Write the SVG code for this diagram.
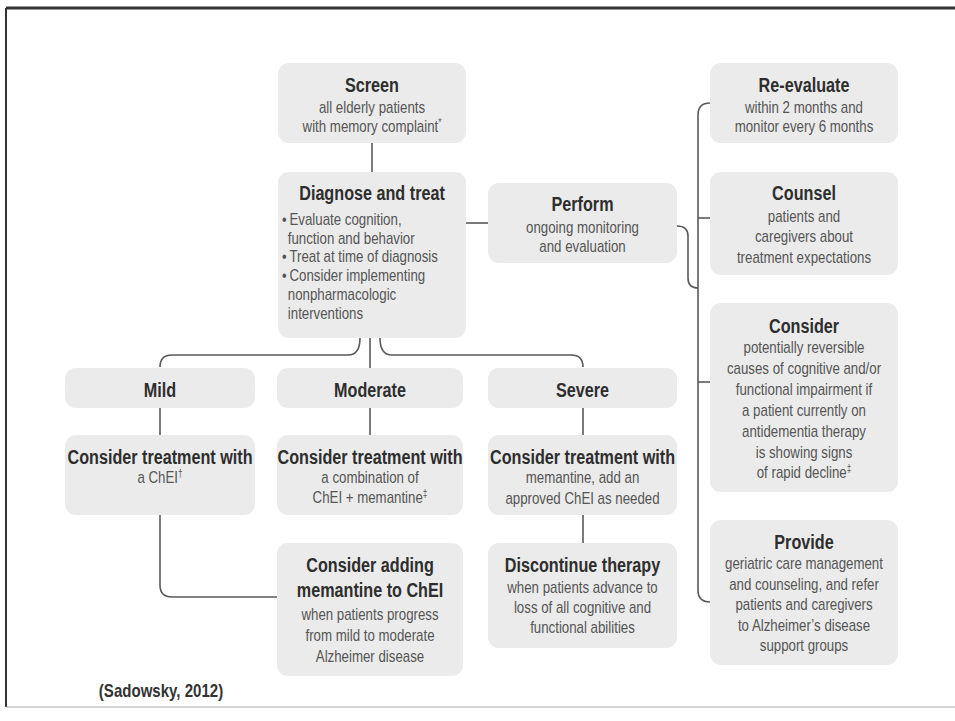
<svg xmlns="http://www.w3.org/2000/svg" width="955" height="721" viewBox="0 0 955 721">
<style>
.box{fill:#ebebeb;stroke:none}
.ln{fill:none;stroke:#5a5a5a;stroke-width:1.6}
text{font-family:"Liberation Sans",Arial,sans-serif}
.h{font-size:19.5px;font-weight:bold;fill:#2e2e2e;text-anchor:middle}
.b{font-size:16px;fill:#555;text-anchor:middle}
.bl{font-size:16px;fill:#555;text-anchor:start}
.sup{font-size:10px}
</style>
<rect width="955" height="721" fill="#fff"/>
<g id="frame">
<line x1="6" y1="8" x2="955" y2="8" stroke="#333" stroke-width="3"/>
<line x1="6" y1="8" x2="6" y2="707" stroke="#333" stroke-width="2"/>
<line x1="6" y1="707" x2="955" y2="707" stroke="#aaa" stroke-width="1"/>
</g>
<g id="connectors">
<path class="ln" d="M372,143 V172"/>
<path class="ln" d="M466,223 H488"/>
<path class="ln" d="M360,338 Q360,355 348,355 H172 Q160,355 160,367"/>
<path class="ln" d="M370,338 V368"/>
<path class="ln" d="M380,338 Q380,355 392,355 H571 Q583,355 583,367"/>
<path class="ln" d="M160,408 V435"/>
<path class="ln" d="M370,408 V435"/>
<path class="ln" d="M583,408 V435"/>
<path class="ln" d="M583,515 V543"/>
<path class="ln" d="M160,515 V585 Q160,597 172,597 H277"/>
<path class="ln" d="M677,226 Q688,226 688,236 L688,278 Q688,288 698,288"/>
<path class="ln" d="M710,103 Q698,103 698,115 L698,590 Q698,602 710,602"/>
<path class="ln" d="M698,218 H710"/>
<path class="ln" d="M698,382 H710"/>
</g>
<g id="screen">
<rect class="box" x="278" y="63" width="188" height="80" rx="11"/>
<g transform="translate(372 0) scale(0.83 1)">
<text class="h" x="0" y="92">Screen</text>
<text class="b" x="0" y="113">all elderly patients</text>
<text class="b" x="0" y="132">with memory complaint<tspan class="sup" dy="-6">*</tspan></text>
</g>
</g>
<g id="diagnose">
<rect class="box" x="278" y="172" width="188" height="166" rx="11"/>
<g transform="translate(372 0) scale(0.83 1)">
<text class="h" x="0" y="200">Diagnose and treat</text>
</g>
<g transform="translate(282 0) scale(0.83 1)">
<text class="bl" x="0" y="225">•</text>
<text class="bl" x="9" y="225">Evaluate cognition,</text>
<text class="bl" x="7" y="244">function and behavior</text>
<text class="bl" x="0" y="262">•</text>
<text class="bl" x="9" y="262">Treat at time of diagnosis</text>
<text class="bl" x="0" y="281">•</text>
<text class="bl" x="9" y="281">Consider implementing</text>
<text class="bl" x="7" y="300">nonpharmacologic</text>
<text class="bl" x="7" y="319">interventions</text>
</g>
</g>
<g id="perform">
<rect class="box" x="488" y="183" width="189" height="80" rx="11"/>
<g transform="translate(582.5 0) scale(0.83 1)">
<text class="h" x="0" y="211">Perform</text>
<text class="b" x="0" y="233">ongoing monitoring</text>
<text class="b" x="0" y="252">and evaluation</text>
</g>
</g>
<g id="reevaluate">
<rect class="box" x="710" y="63" width="188" height="80" rx="11"/>
<g transform="translate(804 0) scale(0.83 1)">
<text class="h" x="0" y="92">Re-evaluate</text>
<text class="b" x="0" y="113">within 2 months and</text>
<text class="b" x="0" y="132">monitor every 6 months</text>
</g>
</g>
<g id="counsel">
<rect class="box" x="710" y="172" width="188" height="103" rx="11"/>
<g transform="translate(804 0) scale(0.83 1)">
<text class="h" x="0" y="200">Counsel</text>
<text class="b" x="0" y="222">patients and</text>
<text class="b" x="0" y="242">caregivers about</text>
<text class="b" x="0" y="263">treatment expectations</text>
</g>
</g>
<g id="consider">
<rect class="box" x="710" y="303" width="188" height="189" rx="11"/>
<g transform="translate(804 0) scale(0.83 1)">
<text class="h" x="0" y="333">Consider</text>
<text class="b" x="0" y="353">potentially reversible</text>
<text class="b" x="0" y="374">causes of cognitive and/or</text>
<text class="b" x="0" y="395">functional impairment if</text>
<text class="b" x="0" y="416">a patient currently on</text>
<text class="b" x="0" y="437">antidementia therapy</text>
<text class="b" x="0" y="458">is showing signs</text>
<text class="b" x="0" y="478">of rapid decline<tspan class="sup" dy="-6">‡</tspan></text>
</g>
</g>
<g id="provide">
<rect class="box" x="710" y="520" width="188" height="145" rx="11"/>
<g transform="translate(804 0) scale(0.83 1)">
<text class="h" x="0" y="549">Provide</text>
<text class="b" x="0" y="569">geriatric care management</text>
<text class="b" x="0" y="590">and counseling, and refer</text>
<text class="b" x="0" y="610">patients and caregivers</text>
<text class="b" x="0" y="631">to Alzheimer’s disease</text>
<text class="b" x="0" y="651">support groups</text>
</g>
</g>
<g id="mild">
<rect class="box" x="65" y="368" width="190" height="40" rx="11"/>
<g transform="translate(160 0) scale(0.83 1)"><text class="h" x="0" y="397">Mild</text></g>
</g>
<g id="moderate">
<rect class="box" x="277" y="368" width="186" height="40" rx="11"/>
<g transform="translate(370 0) scale(0.83 1)"><text class="h" x="0" y="397">Moderate</text></g>
</g>
<g id="severe">
<rect class="box" x="488" y="368" width="189" height="40" rx="11"/>
<g transform="translate(582.5 0) scale(0.83 1)"><text class="h" x="0" y="397">Severe</text></g>
</g>
<g id="mild-treat">
<rect class="box" x="65" y="435" width="190" height="80" rx="11"/>
<g transform="translate(160 0) scale(0.83 1)">
<text class="h" x="0" y="464">Consider treatment with</text>
<text class="b" x="0" y="483">a ChEI<tspan class="sup" dy="-6">†</tspan></text>
</g>
</g>
<g id="moderate-treat">
<rect class="box" x="277" y="435" width="186" height="80" rx="11"/>
<g transform="translate(370 0) scale(0.83 1)">
<text class="h" x="0" y="464">Consider treatment with</text>
<text class="b" x="0" y="483">a combination of</text>
<text class="b" x="0" y="503">ChEI + memantine<tspan class="sup" dy="-6">‡</tspan></text>
</g>
</g>
<g id="severe-treat">
<rect class="box" x="488" y="435" width="189" height="80" rx="11"/>
<g transform="translate(582.5 0) scale(0.83 1)">
<text class="h" x="0" y="464">Consider treatment with</text>
<text class="b" x="0" y="483">memantine, add an</text>
<text class="b" x="0" y="504">approved ChEI as needed</text>
</g>
</g>
<g id="consider-adding">
<rect class="box" x="277" y="543" width="186" height="133" rx="11"/>
<g transform="translate(370 0) scale(0.83 1)">
<text class="h" x="0" y="572">Consider adding</text>
<text class="h" x="0" y="597">memantine to ChEI</text>
<text class="b" x="0" y="620">when patients progress</text>
<text class="b" x="0" y="641">from mild to moderate</text>
<text class="b" x="0" y="662">Alzheimer disease</text>
</g>
</g>
<g id="discontinue">
<rect class="box" x="488" y="543" width="189" height="105" rx="11"/>
<g transform="translate(582.5 0) scale(0.83 1)">
<text class="h" x="0" y="572">Discontinue therapy</text>
<text class="b" x="0" y="593">when patients advance to</text>
<text class="b" x="0" y="613">loss of all cognitive and</text>
<text class="b" x="0" y="633">functional abilities</text>
</g>
</g>
<g id="citation">
<g transform="translate(161 0) scale(0.86 1)">
<text x="0" y="697" style="font-size:17.5px;font-weight:bold;fill:#333;text-anchor:middle">(Sadowsky, 2012)</text>
</g>
</g>
</svg>
